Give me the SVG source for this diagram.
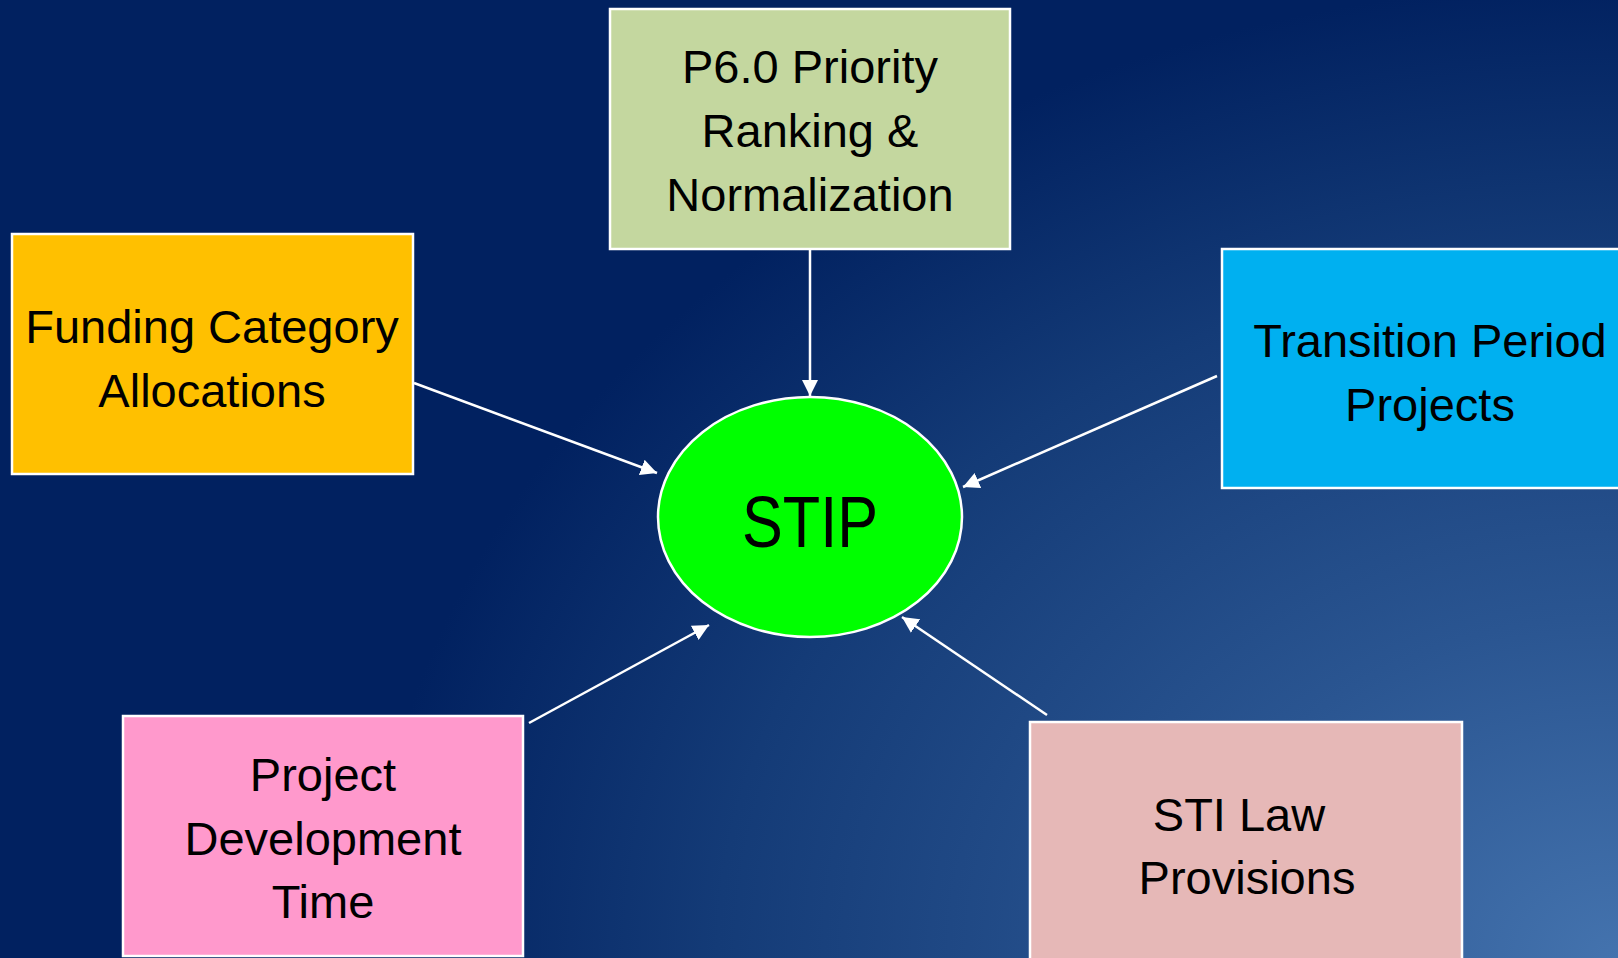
<svg xmlns="http://www.w3.org/2000/svg" width="1618" height="958" viewBox="0 0 1618 958">
  <defs>
    <radialGradient id="bg" gradientUnits="userSpaceOnUse" cx="1618" cy="958" r="1250" gradientTransform="translate(1618 958) scale(1 0.78) translate(-1618 -958)">
      <stop offset="0" stop-color="#4473ae"/>
      <stop offset="0.35" stop-color="#2a5591"/>
      <stop offset="0.72" stop-color="#143b77"/>
      <stop offset="1" stop-color="#012160"/>
    </radialGradient>
    <marker id="arrow" viewBox="0 0 10 10" refX="10" refY="5" markerWidth="6.5" markerHeight="6.5" markerUnits="strokeWidth" orient="auto">
      <path d="M0,0 L10,5 L0,10 Z" fill="#ffffff"/>
    </marker>
    <style>
      .box { stroke: #ffffff; stroke-width: 2.5; }
      .lbl { font-family: "Liberation Sans", Arial, sans-serif; font-size: 47px; fill: #000000; text-anchor: middle; }
      .conn { stroke: #ffffff; stroke-width: 2.5; fill: none; marker-end: url(#arrow); }
    </style>
  </defs>
  <rect x="0" y="0" width="1618" height="958" fill="url(#bg)"/>

  <g id="connectors">
    <line class="conn" x1="810" y1="249" x2="810" y2="396"/>
    <line class="conn" x1="414" y1="383" x2="657" y2="473"/>
    <line class="conn" x1="1217" y1="376" x2="963" y2="487"/>
    <line class="conn" x1="529" y1="723" x2="709" y2="625"/>
    <line class="conn" x1="1047" y1="715" x2="902" y2="617"/>
  </g>

  <g id="node-p6">
    <rect class="box" x="610" y="9" width="400" height="240" fill="#c4d79f"/>
    <text class="lbl" x="810" y="83">P6.0 Priority</text>
    <text class="lbl" x="810" y="147">Ranking &amp;</text>
    <text class="lbl" x="810" y="211">Normalization</text>
  </g>

  <g id="node-funding">
    <rect class="box" x="12" y="234" width="401" height="240" fill="#ffc000"/>
    <text class="lbl" x="212" y="343">Funding Category</text>
    <text class="lbl" x="212" y="407">Allocations</text>
  </g>

  <g id="node-transition">
    <rect class="box" x="1222" y="249" width="416" height="239" fill="#00b0f0"/>
    <text class="lbl" x="1430" y="357">Transition Period</text>
    <text class="lbl" x="1430" y="421">Projects</text>
  </g>

  <g id="node-projdev">
    <rect class="box" x="123" y="716" width="400" height="240" fill="#ff99cc"/>
    <text class="lbl" x="323" y="791">Project</text>
    <text class="lbl" x="323" y="855">Development</text>
    <text class="lbl" x="323" y="918">Time</text>
  </g>

  <g id="node-sti">
    <rect class="box" x="1030" y="722" width="432" height="250" fill="#e6b8b7"/>
    <text class="lbl" x="1239" y="831">STI Law</text>
    <text class="lbl" x="1247" y="894">Provisions</text>
  </g>

  <g id="node-stip">
    <ellipse cx="810" cy="517" rx="152" ry="120" fill="#00ff00" stroke="#ffffff" stroke-width="2.5"/>
    <text x="810" y="547" font-family="Liberation Sans, Arial, sans-serif" font-size="72" fill="#000000" text-anchor="middle" textLength="136" lengthAdjust="spacingAndGlyphs">STIP</text>
  </g>
</svg>
